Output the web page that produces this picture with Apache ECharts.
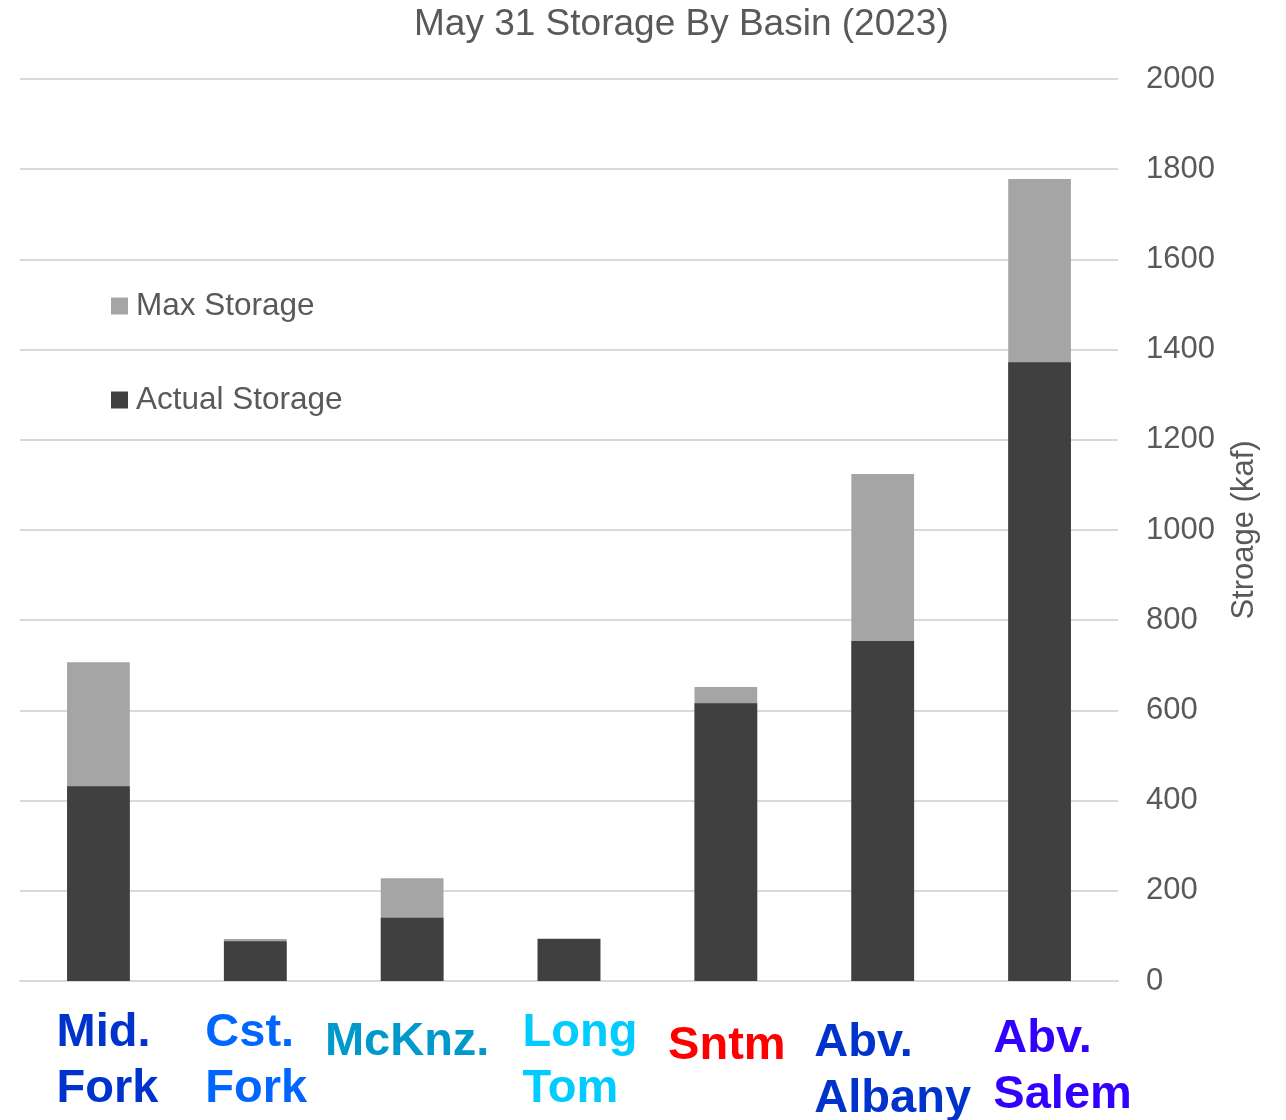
<!DOCTYPE html>
<html>
<head>
<meta charset="utf-8">
<script src="https://cdn.jsdelivr.net/npm/echarts@6/dist/echarts.min.js"></script>
<style>
  html, body { margin: 0; padding: 0; background: #fff; }
  #chart { width: 1286px; height: 1120px; }
</style>
</head>
<body>
<div id="chart"></div>
<script>
// basins along the x axis
const categories = ['Mid.\nFork', 'Cst.\nFork', 'McKnz.', 'Long\nTom', 'Sntm', 'Abv.\nAlbany', 'Abv.\nSalem'];
const labelColors = ['#0033cc', '#0066ff', '#0099cc', '#00ccff', '#ff0000', '#0033cc', '#3300ff'];
const labelShift = [0, 0, 9, 0, 13, 10, 6];
const labelNudge = [9, 1, -5, 11, 1, 10, 23];

// storage in kaf
const maxStorage = [707, 93, 228, 94, 652, 1124, 1778];
const actualStorage = [432, 88, 140, 93, 616, 754, 1372];

const yTicks = { min: 0, max: 2000, interval: 200 };

const myChart = echarts.init(document.getElementById('chart'));

// one rich style per category, first line / next line
let rich = {};
categories.forEach((c, i) => {
  let n = labelNudge[i];
  let base = {
    color: labelColors[i],
    fontFamily: 'Liberation Sans, Arial, sans-serif',
    fontWeight: 'bold',
    fontSize: 47,
    align: 'left',
    padding: n >= 0 ? [0, 0, 0, 2 * n] : [0, -2 * n, 0, 0]
  };
  rich['f' + i] = Object.assign({}, base, { lineHeight: 56 + 2 * labelShift[i] });
  rich['n' + i] = Object.assign({}, base, { lineHeight: 56 - 2 * labelShift[i] });
});

myChart.setOption({
  animation: false,
  textStyle: { fontFamily: 'Liberation Sans, Arial, sans-serif' },
  title: {
    text: 'May 31 Storage By Basin (2023)',
    left: 409,
    top: 1,
    textStyle: { color: '#595959', fontSize: 37, fontWeight: 'normal' }
  },
  legend: {
    data: ['Max Storage', 'Actual Storage'],
    orient: 'vertical',
    left: 106,
    top: 285,
    itemWidth: 17,
    itemHeight: 17,
    itemGap: 62,
    icon: 'rect',
    textStyle: { color: '#595959', fontSize: 31.5, padding: [0, 0, 0, 3] }
  },
  grid: {
    top: 79,
    left: 20, //与左边的距离
    right: 168, //与右边的距离
    bottom: 139,
    outerBoundsMode: 'none'
  },
  xAxis: {
    type: 'category',
    data: categories,
    axisTick: { show: false },
    axisLine: { lineStyle: { color: '#d9d9d9', width: 2 } },
    axisLabel: {
      interval: 0,
      margin: 24,
      verticalAlign: 'top',
      formatter: (value, index) => {
        let lines = value.split('\n');
        return lines.map((l, k) => '{' + (k === 0 ? 'f' : 'n') + index + '|' + l + '}').join('\n');
      },
      rich: rich
    }
  },
  yAxis: {
    type: 'value',
    position: 'right',
    min: yTicks.min,
    max: yTicks.max,
    interval: yTicks.interval,
    name: 'Stroage (kaf)',
    nameLocation: 'middle',
    nameRotate: 90,
    nameGap: 111,
    nameTextStyle: { color: '#595959', fontSize: 31 },
    axisLine: { show: false },
    axisTick: { show: false },
    axisLabel: { color: '#595959', fontSize: 31, margin: 28, formatter: (v) => String(v) },
    splitLine: { lineStyle: { color: '#d9d9d9', width: 2 } }
  },
  series: [
    {
      name: 'Max Storage',
      type: 'bar',
      barWidth: '40%',
      itemStyle: { color: '#a5a5a5' },
      data: maxStorage
    },
    {
      name: 'Actual Storage',
      type: 'bar',
      barWidth: '40%',
      barGap: '-100%',
      itemStyle: { color: '#404040' },
      data: actualStorage
    }
  ]
});
</script>
</body>
</html>
